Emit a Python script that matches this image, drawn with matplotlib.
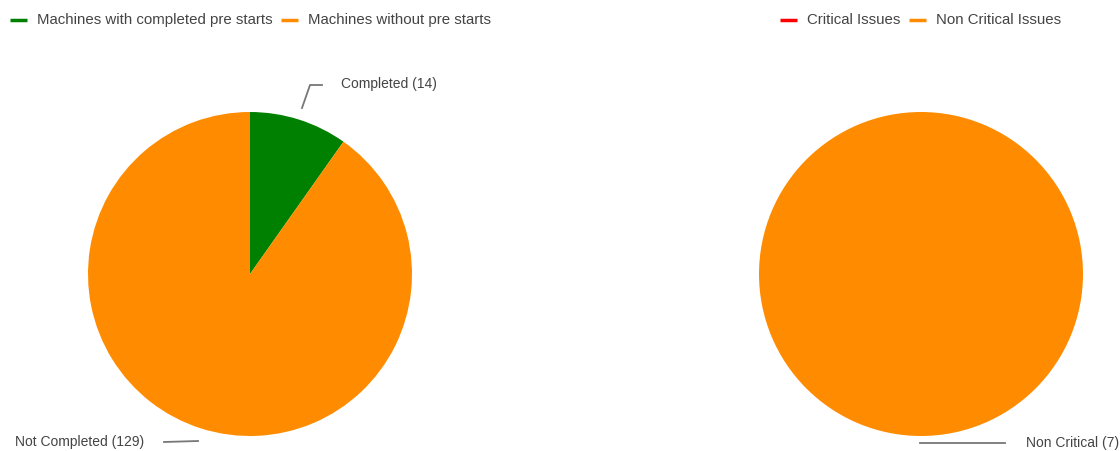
import numpy as np
import matplotlib.pyplot as plt

# data
prestart_labels = ['Completed', 'Not Completed']
prestart_values = [14, 129]
prestart_legend = ['Machines with completed pre starts', 'Machines without pre starts']
prestart_colors = ['#008000', '#ff8c00']

issue_labels = ['Critical', 'Non Critical']
issue_values = [0, 7]
issue_legend = ['Critical Issues', 'Non Critical Issues']
issue_colors = ['#ff0000', '#ff8c00']

W, H = 1120, 451
plt.rcParams['font.family'] = ['Liberation Sans', 'DejaVu Sans']
TXT = '#444444'
LINE = '#777777'

fig = plt.figure(figsize=(W / 100, H / 100), dpi=100)
ax = fig.add_axes([0, 0, 1, 1])


def Y(y):
    # pixel rows from top -> data y
    return H - y


def draw_legend(x0, y, names, colors, gaps):
    x = x0
    for name, col, gap in zip(names, colors, gaps):
        ax.plot([x, x + 17], [Y(y), Y(y)], color=col, lw=2.5, solid_capstyle='butt')
        ax.text(x + 27, Y(y), name, fontsize=10.8, color=TXT, va='center', ha='left')
        x += gap


def draw_pie(cx, cy, r, values, colors):
    ax.pie(values, colors=colors, startangle=90, counterclock=False,
           center=(cx, Y(cy)), radius=r, wedgeprops=dict(linewidth=0))


draw_legend(10, 20, prestart_legend, prestart_colors, [271, 0])
draw_legend(780, 20, issue_legend, issue_colors, [129, 0])

draw_pie(250, 274, 162, prestart_values, prestart_colors)
draw_pie(921, 274, 162, issue_values, issue_colors)

# leader lines and slice labels
ax.plot([302, 310, 322], [Y(108), Y(85), Y(85)], color=LINE, lw=1.3)
ax.text(341, Y(84), '%s (%d)' % (prestart_labels[0], prestart_values[0]),
        fontsize=10, color=TXT, va='center', ha='left')

ax.plot([198, 164], [Y(441), Y(442)], color=LINE, lw=1.3)
ax.text(15, Y(442), '%s (%d)' % (prestart_labels[1], prestart_values[1]),
        fontsize=10, color=TXT, va='center', ha='left')

ax.plot([920, 1005], [Y(443), Y(443)], color=LINE, lw=1.3)
ax.text(1026, Y(443), '%s (%d)' % (issue_labels[1], issue_values[1]),
        fontsize=10, color=TXT, va='center', ha='left')

ax.set_xlim(0, W)
ax.set_ylim(0, H)
ax.set_aspect('auto')
ax.axis('off')

fig.savefig('out.png', dpi=100)
